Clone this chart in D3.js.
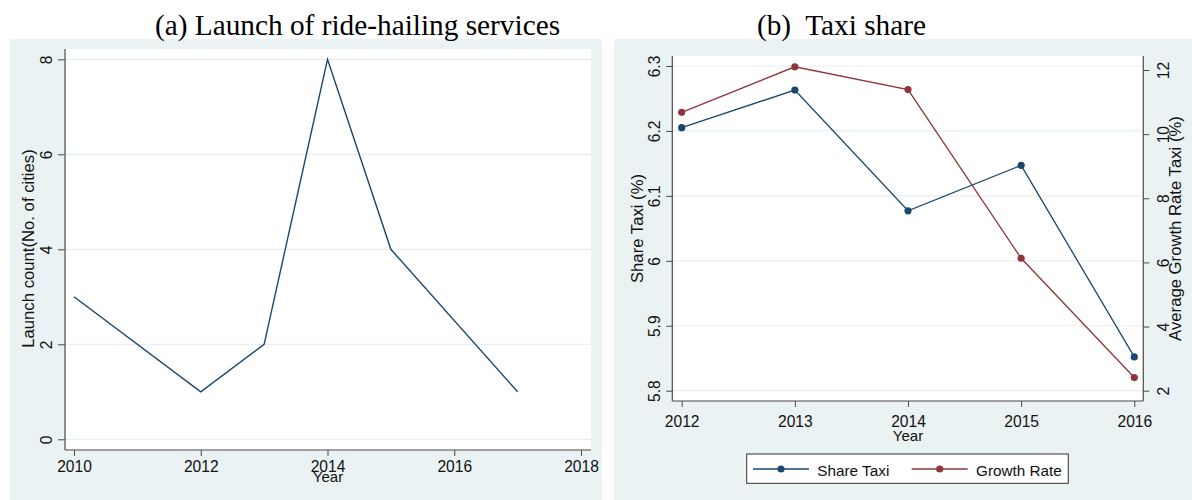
<!DOCTYPE html>
<html>
<head>
<meta charset="utf-8">
<script src="https://cdn.jsdelivr.net/npm/d3@7"></script>
<style>
  html, body { margin: 0; padding: 0; background: #ffffff; }
  svg { display: block; }
  .tick text { font-family: "Liberation Sans", Arial, sans-serif; font-size: 15.6px; fill: #111; }
  .lbl { font-family: "Liberation Sans", Arial, sans-serif; font-size: 15px; fill: #111; }
  .ytl { font-family: "Liberation Sans", Arial, sans-serif; font-size: 16.7px; fill: #111; }
  .ttl { font-family: "Liberation Serif", "Times New Roman", serif; font-size: 29.3px; fill: #000; }
</style>
</head>
<body>
<svg id="chart" width="1192" height="500"></svg>
<script>
// Panel (a): launches of ride-hailing services per year
const launchYears  = [2010, 2012, 2013, 2014, 2015, 2017];
const launchCounts = [3, 1, 2, 8, 4, 1];
const launchXTicks = [2010, 2012, 2014, 2016, 2018];
const launchYTicks = [0, 2, 4, 6, 8];

// Panel (b): taxi share and its average growth rate
const taxiYears   = [2012, 2013, 2014, 2015, 2016];
const shareTaxi   = [6.205, 6.263, 6.077, 6.147, 5.852];
const growthRate  = [10.68, 12.10, 11.39, 6.13, 2.41];
const shareTicks  = [5.8, 5.9, 6.0, 6.1, 6.2, 6.3];
const growthTicks = [2, 4, 6, 8, 10, 12];

const NAVY = "#1a476f", MAROON = "#90353b";
const BG = "#eaf2f3", GRID = "#e6eff2", AXIS = "#4a4a4a";

const svg = d3.select("#chart");

function styleAxis(g) {
  g.select(".domain").attr("stroke", AXIS).attr("stroke-width", 1.2);
  g.selectAll(".tick line").attr("stroke", AXIS).attr("stroke-width", 1);
}

// ---------- Panel (a) ----------
{
  const L = 65, R = 591, T = 49, B = 450;
  svg.append("rect").attr("x", 10).attr("y", 39).attr("width", 592).attr("height", 461).attr("fill", BG);
  svg.append("rect").attr("x", L).attr("y", T).attr("width", R - L).attr("height", B - T).attr("fill", "#fff");

  const x = d3.scaleLinear().domain([2010, 2018]).range([74, 581]);
  const y = d3.scaleLinear().domain([0, 8]).range([439.3, 59.3]);

  svg.append("g").selectAll("line").data(launchYTicks).join("line")
    .attr("x1", L).attr("x2", R).attr("y1", d => y(d)).attr("y2", d => y(d))
    .attr("stroke", GRID).attr("stroke-width", 1.2);

  const line = d3.line().x(d => x(d[0])).y(d => y(d[1]));
  svg.append("path").datum(d3.zip(launchYears, launchCounts))
    .attr("d", line).attr("fill", "none").attr("stroke", NAVY).attr("stroke-width", 1.4);

  const gx = svg.append("g").attr("transform", `translate(0,${B})`)
    .call(d3.axisBottom(x).tickValues(launchXTicks).tickFormat(d3.format("d")).tickSize(6).tickSizeOuter(0));
  gx.select(".domain").attr("d", `M${L},0H${R}`);
  gx.selectAll(".tick text").attr("y", 0).attr("dy", 0).attr("transform", "translate(0,22.3)");
  styleAxis(gx);

  const gy = svg.append("g").attr("transform", `translate(${L},0)`)
    .call(d3.axisLeft(y).tickValues(launchYTicks).tickFormat(d3.format("d")).tickSize(7).tickSizeOuter(0));
  gy.select(".domain").attr("d", `M0,${T}V${B}`);
  gy.selectAll(".tick text").attr("x", 0).attr("dy", 0)
    .attr("text-anchor", "middle").attr("transform", "translate(-13.3,0) rotate(-90)");
  styleAxis(gy);

  svg.append("text").attr("class", "lbl").attr("text-anchor", "middle")
    .attr("x", 328).attr("y", 482).text("Year");
  svg.append("text").attr("class", "ytl").attr("text-anchor", "middle")
    .attr("transform", `translate(33.8,${(T + B) / 2 - 1}) rotate(-90)`).text("Launch count(No. of cities)");

  svg.append("text").attr("class", "ttl").attr("text-anchor", "middle")
    .attr("x", 357.5).attr("y", 34.5).text("(a) Launch of ride-hailing services");
}

// ---------- Panel (b) ----------
{
  const L = 672.3, R = 1143.3, T = 56, B = 401;
  svg.append("rect").attr("x", 614).attr("y", 39).attr("width", 578).attr("height", 461).attr("fill", BG);
  svg.append("rect").attr("x", L).attr("y", T).attr("width", R - L).attr("height", B - T).attr("fill", "#fff");

  const x  = d3.scaleLinear().domain([2012, 2016]).range([681.7, 1134.3]);
  const yL = d3.scaleLinear().domain([5.8, 6.3]).range([390.7, 66]);
  const yR = d3.scaleLinear().domain([2, 12]).range([390.7, 70]);

  svg.append("g").selectAll("line").data(shareTicks).join("line")
    .attr("x1", L).attr("x2", R).attr("y1", d => yL(d)).attr("y2", d => yL(d))
    .attr("stroke", GRID).attr("stroke-width", 1.2);

  const series = [
    { name: "Share Taxi",  values: shareTaxi,  scale: yL, color: NAVY },
    { name: "Growth Rate", values: growthRate, scale: yR, color: MAROON }
  ];

  // growth rate drawn first so the share line sits on top
  [series[1], series[0]].forEach(s => {
    const pts = d3.zip(taxiYears, s.values);
    svg.append("path").datum(pts)
      .attr("d", d3.line().x(d => x(d[0])).y(d => s.scale(d[1])))
      .attr("fill", "none").attr("stroke", s.color).attr("stroke-width", 1.3);
    svg.append("g").selectAll("circle").data(pts).join("circle")
      .attr("cx", d => x(d[0])).attr("cy", d => s.scale(d[1])).attr("r", 3.6)
      .attr("fill", s.color);
  });

  const gx = svg.append("g").attr("transform", `translate(0,${B})`)
    .call(d3.axisBottom(x).tickValues(taxiYears).tickFormat(d3.format("d")).tickSize(6).tickSizeOuter(0));
  gx.select(".domain").attr("d", `M${L},0H${R}`);
  gx.selectAll(".tick text").attr("y", 0).attr("dy", 0).attr("transform", "translate(0,25.7)");
  styleAxis(gx);

  const gyl = svg.append("g").attr("transform", `translate(${L},0)`)
    .call(d3.axisLeft(yL).tickValues(shareTicks).tickFormat(d => d3.format(".1f")(d).replace(/\.0$/, "")).tickSize(6).tickSizeOuter(0));
  gyl.select(".domain").attr("d", `M0,${T}V${B}`);
  gyl.selectAll(".tick text").attr("x", 0).attr("dy", 0)
    .attr("text-anchor", "middle").attr("transform", "translate(-12.3,0) rotate(-90)");
  styleAxis(gyl);

  const gyr = svg.append("g").attr("transform", `translate(${R},0)`)
    .call(d3.axisRight(yR).tickValues(growthTicks).tickFormat(d3.format("d")).tickSize(6).tickSizeOuter(0));
  gyr.select(".domain").attr("d", `M0,${T}V${B}`);
  gyr.selectAll(".tick text").attr("x", 0).attr("dy", 0)
    .attr("text-anchor", "middle").attr("transform", "translate(25.2,0) rotate(-90)");
  styleAxis(gyr);

  svg.append("text").attr("class", "lbl").attr("text-anchor", "middle")
    .attr("x", 908).attr("y", 441).text("Year");
  svg.append("text").attr("class", "ytl").attr("text-anchor", "middle")
    .attr("transform", `translate(643.3,${(T + B) / 2}) rotate(-90)`).text("Share Taxi (%)");
  svg.append("text").attr("class", "ytl").attr("text-anchor", "middle")
    .attr("transform", `translate(1180.5,${(T + B) / 2}) rotate(-90)`).text("Average Growth Rate Taxi (%)");

  // legend
  svg.append("rect").attr("x", 746.7).attr("y", 454).attr("width", 321.6).attr("height", 29.3)
    .attr("fill", "#fff").attr("stroke", "#333").attr("stroke-width", 1);
  const legendX = [753, 911.7];
  series.forEach((s, i) => {
    const g = svg.append("g").attr("transform", `translate(${legendX[i]},469)`);
    g.append("line").attr("x1", 0).attr("x2", 56).attr("stroke", s.color).attr("stroke-width", 1.3);
    g.append("circle").attr("cx", 28).attr("r", 3.6).attr("fill", s.color);
    g.append("text").attr("class", "lbl").style("font-size", "15.3px")
      .attr("x", 64.3).attr("y", 6.8).text(s.name);
  });

  svg.append("text").attr("class", "ttl").attr("text-anchor", "middle").attr("xml:space", "preserve")
    .attr("x", 841.5).attr("y", 34.5).text("(b)  Taxi share");
}
</script>
</body>
</html>
